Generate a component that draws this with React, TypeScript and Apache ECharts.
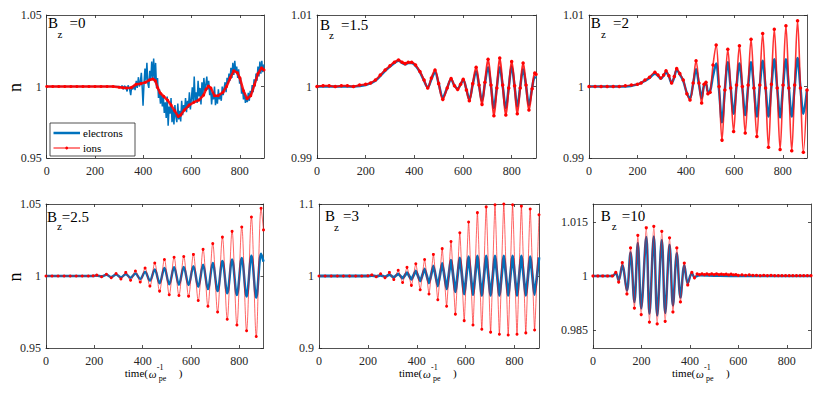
import React, { useEffect, useRef } from "react";
import * as echarts from "echarts";

type Pt = [number, number];

const FONT = "Liberation Serif, Times New Roman, serif";
const AXIS_COLOR = "#262626";
const BLUE = "#0072BD";
const RED = "#FF0000";

const xTickValues = [0, 200, 400, 600, 800];
const yTicksBz0 = [0.95, 1, 1.05];
const yTicksBz15 = [0.99, 1, 1.01];
const yTicksBz2 = [0.99, 1, 1.01];
const yTicksBz25 = [0.95, 1, 1.05];
const yTicksBz3 = [0.9, 1, 1.1];
const yTicksBz10 = [0.985, 1, 1.015];
const bzValues = ["=0", "=1.5", "=2", "=2.5", "=3", "=10"];
const seriesNames = ["electrons", "ions"];
const yLabel = "n";

// ---- Bz = 0 ----
const bz0Electrons: Pt[] = [
  [0, 1], [100, 1], [200, 1], [295, 1], [300, 1.0], [306, 0.9992], [312, 1.0006], [318, 0.998],
  [322, 1.0004], [328, 0.9995], [333, 0.9965], [337, 1.0008], [343, 0.9985], [348, 0.994], [352, 1.0002],
  [357, 0.998], [362, 1.001], [366, 0.9975], [371, 1.004], [375, 0.999], [380, 1.0065], [384, 1.0],
  [388, 1.0035], [392, 1.0095], [396, 0.998], [399, 0.9865], [403, 1.002], [407, 1.0125], [411, 1.004],
  [415, 1.0165], [419, 1.002], [423, 0.999], [427, 1.011], [431, 1.004], [435, 1.0175], [439, 1.006],
  [443, 1.0195], [447, 1.003], [451, 1.0165], [455, 0.999], [459, 1.006], [463, 0.992], [467, 0.998],
  [471, 0.988], [475, 0.995], [479, 0.986], [483, 0.993], [487, 0.9815], [491, 0.989], [495, 0.978],
  [499, 0.993], [503, 0.9725], [507, 0.986], [511, 0.981], [515, 0.992], [519, 0.975], [523, 0.984],
  [527, 0.9735], [531, 0.987], [535, 0.979], [539, 0.975], [543, 0.988], [547, 0.977], [551, 0.983],
  [555, 0.9755], [559, 0.99], [563, 0.98], [567, 0.987], [571, 0.983], [575, 0.992], [579, 0.982],
  [583, 0.99], [587, 0.985], [591, 0.996], [595, 0.984], [599, 0.991], [603, 0.9995], [607, 0.988],
  [611, 1.007], [615, 0.99], [619, 0.996], [623, 0.9885], [627, 1.004], [631, 0.993], [635, 0.999],
  [639, 0.9875], [643, 1.003], [647, 0.994], [651, 1.006], [655, 0.997], [659, 1.001], [663, 1.007],
  [667, 0.998], [671, 1.004], [675, 0.994], [679, 0.999], [683, 0.9875], [687, 0.996], [691, 0.991],
  [695, 1.0], [699, 0.987], [703, 0.994], [707, 0.988], [711, 0.998], [715, 0.991], [719, 0.995],
  [723, 0.99], [727, 1.0], [731, 0.994], [735, 0.999], [739, 1.003], [743, 0.996], [747, 1.006],
  [751, 1.002], [755, 1.009], [759, 1.004], [763, 1.013], [767, 1.006], [771, 1.0165], [775, 1.008],
  [779, 1.018], [783, 1.01], [787, 1.014], [791, 1.006], [795, 1.012], [799, 1.002], [803, 1.006],
  [807, 0.995], [811, 0.999], [815, 0.991], [819, 0.996], [823, 0.9885], [827, 0.993], [831, 0.989],
  [835, 0.9955], [839, 0.99], [843, 0.997], [847, 0.993], [851, 1.001], [855, 0.996], [859, 1.005],
  [863, 1.0], [867, 1.009], [871, 1.004], [875, 1.014], [879, 1.007], [883, 1.0175], [887, 1.009],
  [891, 1.018], [895, 1.01], [900, 1.0155],
];
const bz0Ions: Pt[] = [
  [0, 1], [25, 1], [50, 1], [75, 1], [100, 1], [125, 1], [150, 1], [175, 1], [200, 1], [225, 1],
  [250, 1], [275, 1], [300, 0.9995], [315, 0.9992], [330, 0.999], [350, 0.9992], [370, 1.0015],
  [390, 1.002], [410, 1.003], [425, 1.0045], [440, 1.0052], [450, 1.004], [460, 0.999], [470, 0.9955],
  [485, 0.993], [500, 0.9905], [515, 0.987], [530, 0.983], [545, 0.979], [555, 0.98], [570, 0.9835],
  [590, 0.987], [610, 0.989], [630, 0.9905], [650, 0.994], [660, 0.998], [670, 1.0003], [680, 0.999],
  [695, 0.9935], [710, 0.9935], [730, 0.996], [745, 1.0], [760, 1.006], [775, 1.011], [790, 1.0095],
  [800, 1.006], [815, 0.997], [830, 0.9915], [845, 0.9935], [860, 1.001], [875, 1.009], [890, 1.013],
  [900, 1.0115],
];

// ---- Bz = 1.5 ----
const bz15Electrons: Pt[] = [
  [0, 1], [50, 1], [100, 1], [150, 1], [200, 1.0002], [240, 1.0008], [280, 1.0022], [318, 1.0033],
  [335, 1.0036], [350, 1.0033], [362, 1.0031], [375, 1.0033], [389, 1.0033], [405, 1.0029],
  [423, 1.002], [440, 1.0008], [455, 0.9999], [470, 1.001], [485, 1.002], [500, 1.0004], [517, 0.9985],
  [535, 0.9998], [551, 1.001], [565, 1.0001], [578, 0.9997], [590, 1.0003], [601, 1.0009],
  [614, 0.9996], [626, 0.9982], [640, 1.0003], [654, 1.0021], [666, 1.0001], [678, 0.998],
  [690, 1.0004], [703, 1.0027], [715, 1.0001], [727, 0.997], [739, 0.9999], [751, 1.0027],
  [763, 1.0001], [776, 0.997], [788, 0.9999], [800, 1.0028], [812, 1.0], [823, 0.9972],
  [835, 0.9999], [847, 1.0024], [859, 1.0001], [871, 0.9974], [884, 0.9998], [895, 1.0013],
  [900, 1.0012],
];
const bz15Ions: Pt[] = [
  [0, 1], [25, 1.0001], [50, 1.0001], [75, 1.0], [100, 1.0001], [125, 1.0001], [150, 1.0],
  [175, 1.0002], [200, 1.0003], [220, 1.0005], [240, 1.0009], [260, 1.0016], [280, 1.0023],
  [300, 1.0029], [318, 1.0034], [335, 1.0037], [350, 1.0034], [362, 1.0032], [375, 1.0034],
  [389, 1.0034], [405, 1.003], [423, 1.0021], [440, 1.0009], [455, 0.9998], [470, 1.0012],
  [485, 1.0023], [500, 1.0004], [517, 0.9982], [535, 0.9998], [551, 1.0011], [565, 1.0001],
  [578, 0.9996], [590, 1.0003], [601, 1.001], [614, 0.9995], [626, 0.998], [640, 1.0004],
  [654, 1.0027], [666, 1.0002], [678, 0.9975], [690, 1.0006], [703, 1.0038], [715, 1.0002],
  [727, 0.9959], [739, 0.9998], [751, 1.004], [763, 1.0002], [776, 0.996], [788, 0.9998],
  [800, 1.0035], [812, 1.0001], [823, 0.9962], [835, 0.9998], [847, 1.0033], [859, 1.0002],
  [871, 0.9967], [884, 0.9997], [895, 1.0019], [900, 1.0017],
];

// ---- Bz = 2 ----
const bz2Electrons: Pt[] = [
  [0, 1], [50, 1], [100, 1], [150, 1], [200, 1.0003], [231, 1.0008], [250, 1.0012], [272, 1.0018],
  [285, 1.0015], [296, 1.0011], [308, 1.0015], [318, 1.002], [330, 1.0014], [341, 1.0005],
  [352, 1.0013], [362, 1.0023], [375, 1.0017], [389, 1.0008], [404, 0.9991], [417, 0.9984],
  [430, 1.0004], [442, 1.0024], [454, 1.0003], [465, 0.9984], [475, 1.0002], [483, 1.0004],
  [491, 0.9993], [500, 0.9994], [512, 1.0015], [525, 1.0032], [537, 0.9995], [549, 0.995],
  [561, 0.9996], [573, 1.0034], [585, 0.9998], [597, 0.9962], [609, 1.0], [621, 1.0032],
  [633, 0.9998], [645, 0.996], [657, 1.0], [669, 1.0034], [681, 0.9998], [693, 0.9958], [705, 1.0],
  [717, 1.0036], [729, 0.9998], [741, 0.9958], [753, 1.0], [765, 1.0038], [777, 0.9998],
  [789, 0.9957], [801, 1.0], [813, 1.0038], [825, 0.9998], [837, 0.9958], [849, 1.0], [861, 1.004],
  [873, 0.9998], [885, 0.9962], [900, 0.9995],
];
const bz2Ions: Pt[] = [
  [0, 1], [25, 1], [50, 1], [75, 1], [100, 1], [125, 1], [150, 1.0001], [175, 1.0002], [200, 1.0003],
  [215, 1.0005], [231, 1.0009], [250, 1.0013], [272, 1.002], [285, 1.0016], [296, 1.0012],
  [308, 1.0016], [318, 1.0022], [330, 1.0015], [341, 1.0005], [352, 1.0014], [362, 1.0025],
  [375, 1.0018], [389, 1.0009], [404, 0.999], [417, 0.9981], [430, 1.0005], [442, 1.0036],
  [454, 1.0005], [465, 0.9977], [475, 1.0003], [483, 1.0006], [491, 0.999], [500, 0.9992],
  [512, 1.003], [525, 1.0058], [537, 1.0], [549, 0.9925], [561, 0.9995], [573, 1.0052],
  [585, 0.9998], [597, 0.9937], [609, 1.0002], [621, 1.0057], [633, 1.0], [645, 0.9935],
  [657, 1.0002], [669, 1.0066], [681, 0.9998], [693, 0.993], [705, 1.0002], [717, 1.0074],
  [729, 0.9998], [741, 0.9915], [753, 1.0003], [765, 1.008], [777, 0.9998], [789, 0.9912],
  [801, 1.0002], [813, 1.0085], [825, 0.9998], [837, 0.991], [849, 1.0002], [861, 1.0092],
  [873, 0.9998], [885, 0.9908], [900, 0.9995],
];

// ---- Bz = 2.5 ----
const bz25Electrons: Pt[] = [
  [0, 1], [50, 1], [100, 1], [150, 1], [195, 1.0], [210, 1.0003], [230, 0.9998], [250, 1.0008],
  [270, 0.9993], [290, 1.001], [310, 0.999], [330, 1.0013], [350, 0.9987], [370, 1.0018],
  [390, 0.998], [410, 1.0028], [430, 0.9968], [450, 1.0045], [470, 0.995], [490, 1.0055],
  [510, 0.9942], [530, 1.006], [550, 0.994], [570, 1.0062], [590, 0.9938], [610, 1.0068],
  [630, 0.9925], [650, 1.0078], [670, 0.991], [690, 1.009], [710, 0.9895], [730, 1.0105],
  [750, 0.988], [770, 1.0115], [790, 0.9868], [810, 1.0125], [830, 0.9857], [850, 1.014],
  [870, 0.985], [890, 1.0155], [900, 1.01],
];
const bz25Ions: Pt[] = [
  [0, 1], [25, 1], [50, 1], [75, 1], [100, 1], [125, 1], [150, 1], [175, 1], [195, 1.0001],
  [210, 1.0006], [230, 0.9995], [250, 1.0012], [270, 0.9988], [290, 1.0017], [310, 0.998],
  [330, 1.0025], [350, 0.997], [370, 1.0035], [390, 0.9958], [410, 1.0055], [430, 0.993],
  [450, 1.009], [470, 0.9895], [490, 1.0115], [510, 0.987], [530, 1.013], [550, 0.9865],
  [570, 1.0135], [590, 0.986], [610, 1.015], [630, 0.983], [650, 1.0185], [670, 0.979],
  [690, 1.0225], [710, 0.975], [730, 1.027], [750, 0.97], [770, 1.031], [790, 0.966], [810, 1.034],
  [830, 0.962], [850, 1.041], [870, 0.958], [890, 1.047], [900, 1.032],
];

// ---- Bz = 3 ----
const bz3Electrons: Pt[] = [
  [0, 1], [100, 1], [200, 1.0], [216, 1.0005], [234, 0.9996], [252, 1.001], [270, 0.999],
  [288, 1.0018], [306, 0.9982], [324, 1.003], [342, 0.997], [360, 1.0045], [378, 0.9955],
  [396, 1.007], [414, 0.993], [432, 1.01], [450, 0.99], [468, 1.014], [486, 0.986], [504, 1.018],
  [522, 0.982], [540, 1.022], [558, 0.978], [576, 1.025], [594, 0.975], [612, 1.027], [630, 0.974],
  [648, 1.028], [666, 0.973], [684, 1.028], [702, 0.973], [720, 1.028], [738, 0.973], [756, 1.028],
  [774, 0.973], [792, 1.028], [810, 0.973], [828, 1.028], [846, 0.973], [864, 1.027], [882, 0.974],
  [900, 1.026],
];
const bz3Ions: Pt[] = [
  [0, 1], [25, 1], [50, 1], [75, 1], [100, 1], [125, 1], [150, 1], [175, 1], [200, 1.0002],
  [216, 1.0015], [234, 0.999], [252, 1.003], [270, 0.9975], [288, 1.005], [306, 0.995], [324, 1.008],
  [342, 0.991], [360, 1.012], [378, 0.987], [396, 1.017], [414, 0.981], [432, 1.023], [450, 0.975],
  [468, 1.03], [486, 0.967], [504, 1.038], [522, 0.958], [540, 1.048], [558, 0.947], [576, 1.06],
  [594, 0.938], [612, 1.075], [630, 0.932], [648, 1.088], [666, 0.926], [684, 1.096], [702, 0.922],
  [720, 1.099], [738, 0.919], [756, 1.1], [774, 0.918], [792, 1.099], [810, 0.919], [828, 1.097],
  [846, 0.921], [864, 1.093], [882, 0.925], [900, 1.085],
];

// ---- Bz = 10 ----
const bz10Electrons: Pt[] = [
  [0, 1], [40, 1], [80, 1], [94, 1.0008], [106, 0.9988], [121, 1.003], [140, 0.996], [155, 1.0065],
  [171, 0.9928], [185, 1.0092], [199, 0.991], [220, 1.0108], [233, 0.9895], [251, 1.011],
  [265, 0.989], [284, 1.01], [298, 0.9897], [316, 1.0087], [330, 0.9918], [346, 1.0063],
  [361, 0.994], [377, 1.003], [391, 0.998], [408, 1.0008], [419, 0.9997], [440, 1.0002],
  [500, 1.0001], [600, 1.0], [700, 1.0], [800, 1.0], [900, 1.0],
];
const bz10Ions: Pt[] = [
  [0, 1], [20, 1], [40, 1], [60, 1], [80, 1.0], [94, 1.001], [106, 0.9983], [121, 1.0037], [140, 0.995],
  [155, 1.0078], [171, 0.9911], [185, 1.0113], [199, 0.9893], [220, 1.0134], [233, 0.9872],
  [251, 1.0138], [265, 0.9867], [284, 1.0124], [298, 0.9874], [316, 1.0106], [330, 0.99],
  [346, 1.0078], [361, 0.9928], [377, 1.0036], [391, 0.9975], [408, 1.001], [419, 0.9995],
  [430, 1.0006], [440, 1.0004], [450, 1.0006], [460, 1.0004], [470, 1.0006], [480, 1.0004],
  [490, 1.0006], [500, 1.0004], [510, 1.0006], [520, 1.0004], [530, 1.0005], [540, 1.0004],
  [550, 1.0005], [560, 1.0003], [570, 1.0005], [580, 1.0003], [590, 1.0004], [600, 1.0002],
  [615, 1.0003], [630, 1.0002], [645, 1.0003], [660, 1.0002], [675, 1.0002], [690, 1.0001],
  [705, 1.0002], [720, 1.0001], [735, 1.0002], [750, 1.0001], [765, 1.0001], [780, 1.0001],
  [795, 1.0001], [810, 1.0001], [825, 1.0001], [840, 1.0001], [855, 1.0001], [870, 1.0001],
  [885, 1.0001], [900, 1.0001],
];

interface Panel {
  left: number; top: number; width: number; height: number;
  yMin: number; yMax: number; yTicks: number[];
  elec: Pt[]; ions: Pt[]; label: string; smooth: number | boolean;
  elecWidth: number; ionWidth: number; ionSymbol: number; ionOpacity: number;
  title: { bx: number; by: number; zx: number; zy: number; ex: number };
  yName: boolean; xName: boolean;
}

const panels: Panel[] = [
  { left: 46.7, top: 15, width: 217.3, height: 143, yMin: 0.95, yMax: 1.05, yTicks: yTicksBz0,
    elec: bz0Electrons, ions: bz0Ions, label: bzValues[0], smooth: false,
    elecWidth: 1.5, ionWidth: 2.5, ionSymbol: 3, ionOpacity: 0.9,
    title: { bx: 48, by: 23.3, zx: 57.5, zy: 33.5, ex: 69.5 }, yName: true, xName: false },
  { left: 317, top: 15, width: 219, height: 143, yMin: 0.99, yMax: 1.01, yTicks: yTicksBz15,
    elec: bz15Electrons, ions: bz15Ions, label: bzValues[1], smooth: 0.35,
    elecWidth: 2.5, ionWidth: 2, ionSymbol: 3.5, ionOpacity: 0.85,
    title: { bx: 320, by: 25, zx: 329, zy: 35, ex: 341 }, yName: false, xName: false },
  { left: 589, top: 15, width: 218, height: 143, yMin: 0.99, yMax: 1.01, yTicks: yTicksBz2,
    elec: bz2Electrons, ions: bz2Ions, label: bzValues[2], smooth: 0.35,
    elecWidth: 2.5, ionWidth: 1.6, ionSymbol: 3.5, ionOpacity: 0.8,
    title: { bx: 590.7, by: 22.5, zx: 601, zy: 34, ex: 613 }, yName: false, xName: false },
  { left: 46, top: 204, width: 217.5, height: 144, yMin: 0.95, yMax: 1.05, yTicks: yTicksBz25,
    elec: bz25Electrons, ions: bz25Ions, label: bzValues[3], smooth: 0.35,
    elecWidth: 2.5, ionWidth: 1, ionSymbol: 3, ionOpacity: 0.6,
    title: { bx: 47, by: 216.7, zx: 57, zy: 226, ex: 61.7 }, yName: true, xName: true },
  { left: 319, top: 204, width: 220, height: 144, yMin: 0.9, yMax: 1.1, yTicks: yTicksBz3,
    elec: bz3Electrons, ions: bz3Ions, label: bzValues[4], smooth: 0.15,
    elecWidth: 2.8, ionWidth: 1, ionSymbol: 3, ionOpacity: 0.6,
    title: { bx: 325, by: 216, zx: 334, zy: 227, ex: 343 }, yName: false, xName: true },
  { left: 593, top: 204, width: 218, height: 144, yMin: 0.98, yMax: 1.02, yTicks: yTicksBz10,
    elec: bz10Electrons, ions: bz10Ions, label: bzValues[5], smooth: 0.35,
    elecWidth: 2.5, ionWidth: 1.2, ionSymbol: 3.2, ionOpacity: 0.6,
    title: { bx: 600.7, by: 216, zx: 611.7, zy: 226, ex: 621.7 }, yName: false, xName: true },
];

function txt(x: number, y: number, text: string, fontSize: number, extra: any = {}) {
  return {
    type: "text", x, y, silent: true, z: 100,
    style: {
      text, fontSize, fontFamily: FONT, fill: "#000",
      textAlign: "left", textVerticalAlign: "middle", ...extra,
    },
  };
}

export default function App() {
  const ref = useRef<HTMLDivElement>(null);
  useEffect(() => {
    if (!ref.current) return;
    const chart = echarts.init(ref.current, null, { renderer: "svg" });
    const grid: any[] = [];
    const xAxis: any[] = [];
    const yAxis: any[] = [];
    const series: any[] = [];
    const graphics: any[] = [];
    const lineStyle = { color: AXIS_COLOR, width: 0.8 };

    panels.forEach((p, i) => {
      grid.push({ left: p.left, top: p.top, width: p.width, height: p.height, containLabel: false, outerBoundsMode: "none" });
      xAxis.push({
        type: "value", gridIndex: i, min: 0, max: 900, position: "bottom",
        axisLine: { show: true, onZero: false, lineStyle },
        axisTick: { show: true, inside: true, length: 3, customValues: xTickValues, lineStyle },
        axisLabel: { show: true, customValues: xTickValues, color: AXIS_COLOR, fontFamily: FONT, fontSize: 12, margin: 7 },
        splitLine: { show: false },
      });
      xAxis.push({
        type: "value", gridIndex: i, min: 0, max: 900, position: "top",
        axisLine: { show: true, onZero: false, lineStyle },
        axisTick: { show: true, inside: true, length: 3, customValues: xTickValues, lineStyle },
        axisLabel: { show: false }, splitLine: { show: false },
      });
      yAxis.push({
        type: "value", gridIndex: i, min: p.yMin, max: p.yMax, position: "left",
        axisLine: { show: true, onZero: false, lineStyle },
        axisTick: { show: true, inside: true, length: 3, customValues: p.yTicks, lineStyle },
        axisLabel: { show: true, customValues: p.yTicks, color: AXIS_COLOR, fontFamily: FONT, fontSize: 12, margin: 5 },
        splitLine: { show: false },
      });
      yAxis.push({
        type: "value", gridIndex: i, min: p.yMin, max: p.yMax, position: "right",
        axisLine: { show: true, onZero: false, lineStyle },
        axisTick: { show: true, inside: true, length: 3, customValues: p.yTicks, lineStyle },
        axisLabel: { show: false }, splitLine: { show: false },
      });
      series.push({
        type: "line", name: seriesNames[0], xAxisIndex: 2 * i, yAxisIndex: 2 * i,
        data: p.elec, symbol: "none", smooth: p.smooth,
        lineStyle: { color: BLUE, width: p.elecWidth }, itemStyle: { color: BLUE },
      });
      series.push({
        type: "line", name: seriesNames[1], xAxisIndex: 2 * i, yAxisIndex: 2 * i,
        data: p.ions, symbol: "circle", symbolSize: p.ionSymbol, smooth: p.smooth,
        lineStyle: { color: RED, width: p.ionWidth, opacity: p.ionOpacity }, itemStyle: { color: RED },
      });
      const t = p.title;
      graphics.push(txt(t.bx, t.by, "B", 15));
      graphics.push(txt(t.zx, t.zy, "z", 11));
      graphics.push(txt(t.ex, t.by, p.label, 15));
      if (p.yName) {
        graphics.push({
          type: "text", x: 14.5, y: p.top + p.height / 2 + 1, rotation: Math.PI / 2, silent: true, z: 100,
          style: { text: yLabel, fontSize: 18, fontFamily: FONT, fill: "#000", textAlign: "center", textVerticalAlign: "middle" },
        });
      }
      if (p.xName) {
        const c = p.left + p.width / 2;
        graphics.push(txt(c - 30, 373, "time(", 11));
        graphics.push(txt(c - 6, 373.5, "\u03c9", 11, { fontStyle: "italic" }));
        graphics.push(txt(c + 2, 367, "-1", 8));
        graphics.push(txt(c + 4, 378, "pe", 8));
        graphics.push(txt(c + 24, 373, ")", 11));
      }
    });

    // legend box in the first panel
    graphics.push({
      type: "rect", z: 99, silent: true,
      shape: { x: 50, y: 123, width: 85, height: 33 },
      style: { fill: "#fff", stroke: AXIS_COLOR, lineWidth: 0.8 },
    });
    graphics.push({
      type: "line", z: 100, silent: true,
      shape: { x1: 53.5, y1: 133, x2: 80, y2: 133 },
      style: { stroke: BLUE, lineWidth: 2.5 },
    });
    graphics.push({
      type: "line", z: 100, silent: true,
      shape: { x1: 53.5, y1: 148, x2: 80, y2: 148 },
      style: { stroke: RED, lineWidth: 1 },
    });
    graphics.push({
      type: "circle", z: 100, silent: true,
      shape: { cx: 66.7, cy: 148, r: 1.4 },
      style: { fill: RED },
    });
    graphics.push(txt(83, 133, seriesNames[0], 11));
    graphics.push(txt(83, 148, seriesNames[1], 11));

    chart.setOption({
      animation: false,
      backgroundColor: "#ffffff",
      grid, xAxis, yAxis, series,
      graphic: { elements: graphics },
    });
    return () => chart.dispose();
  }, []);
  return (
    <div
      ref={ref}
      style={{ position: "fixed", left: 0, top: 0, width: 830, height: 393, background: "#fff" }}
    />
  );
}
